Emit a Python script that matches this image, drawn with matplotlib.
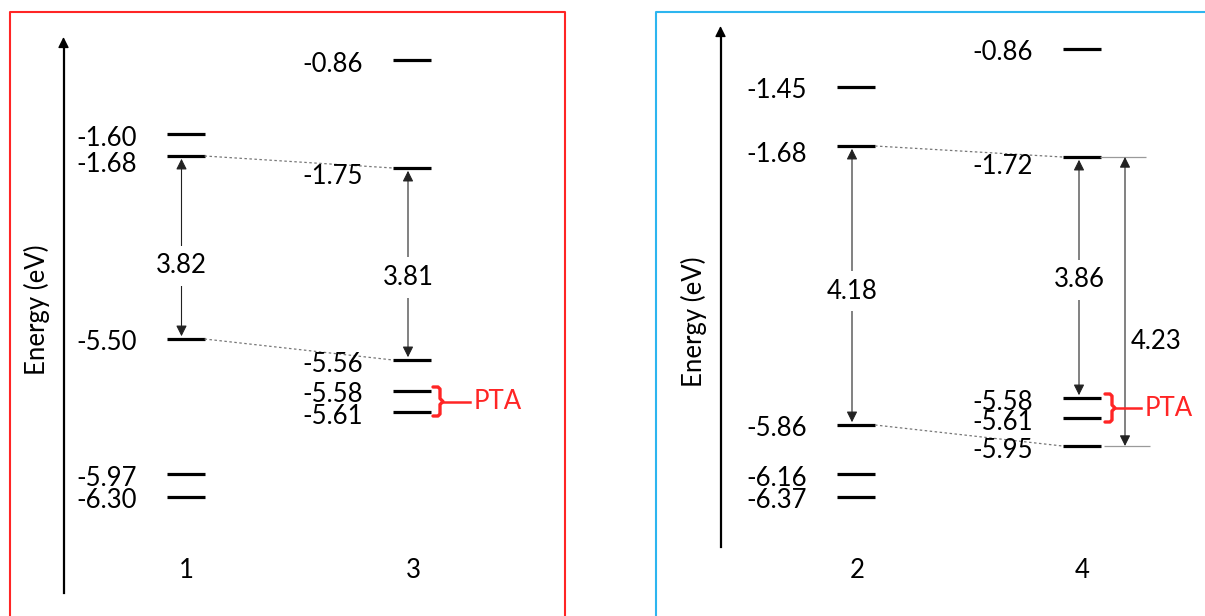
import numpy as np
import matplotlib.pyplot as plt
from matplotlib.lines import Line2D
from matplotlib.transforms import IdentityTransform

plt.rcParams['font.family'] = ['Lato', 'DejaVu Sans']

W, H = 1205, 616

# frontier orbital energies (eV) for each compound
e1 = [-1.60, -1.68, -5.50, -5.97, -6.30]
e3 = [-0.86, -1.75, -5.56, -5.58, -5.61]
e2 = [-1.45, -1.68, -5.86, -6.16, -6.37]
e4 = [-0.86, -1.72, -5.58, -5.61, -5.95]

# band gaps as (upper level, lower level)
gap1 = (-1.68, -5.50)
gap3 = (-1.75, -5.56)
gap2 = (-1.68, -5.86)
gap4 = (-1.72, -5.58)
gap4_wide = (-1.72, -5.95)
pta3 = (-5.58, -5.61)
pta4 = (-5.58, -5.61)

# schematic (non-linear) energy axis: energy -> pixels from the top
left_e = [-7.5, -6.30, -5.97, -5.61, -5.58, -5.56, -5.50, -1.75, -1.68, -1.60, -0.86, 0.0]
left_px = [616, 497, 474, 412, 391, 360, 339, 168, 156, 134, 60, 0]
right_e = [-7.5, -6.37, -6.16, -5.95, -5.86, -5.61, -5.58, -1.72, -1.68, -1.45, -0.86, 0.0]
right_px = [616, 497, 474, 446, 425, 418, 398, 157, 146, 87, 49, 0]

FS = 18.5
RED = '#ff2525'
BLUE = '#2db5ef'


def fig_xy(x, y):
    return x / W, 1 - y / H


def make_axes(fig, es, pxs):
    es = np.array(es)
    pxs = np.array(pxs, dtype=float)
    fwd = lambda e: -np.interp(e, es, pxs)
    inv = lambda p: np.interp(-np.asarray(p), pxs[::-1], es[::-1])
    ax = fig.add_axes([0, 0, 1, 1])
    ax.set_xlim(0, W)
    ax.set_yscale('function', functions=(fwd, inv))
    ax.set_ylim(es[0], es[-1])
    ax.axis('off')
    return ax


def ydisp(ax, e):
    return ax.transData.transform((0, e))[1]


def column(ax, xc, levels, name, lumo):
    ax.hlines(levels, xc - 19, xc + 19, color='black', lw=2.3)
    for v in levels:
        dy = 7 if v == lumo else 2
        ax.annotate(f"{v:.2f}", xy=(xc - 49, v), xytext=(0, -(9.5 + dy)),
                    textcoords='offset pixels', ha='right', va='baseline', fontsize=FS)
    fig.text(*fig_xy(xc + 1, 570), name, fontsize=FS, ha='center', va='center')


def gap_arrow(ax, xa, gap, frac):
    top, bot = gap
    ax.annotate('', xy=(xa, top), xytext=(xa, bot),
                arrowprops=dict(arrowstyle='<|-|>', lw=0.8, color='#222222',
                                mutation_scale=16, shrinkA=2, shrinkB=2))
    yt, yb = ydisp(ax, top), ydisp(ax, bot)
    ymid = yt - frac * (yt - yb)
    fig.text(xa / W, ymid / H, f"{abs(bot - top):.2f}", fontsize=FS, ha='center', va='center',
             bbox=dict(boxstyle='square,pad=0.3', fc='white', ec='none'))


def connector(ax, xa, ea, xb, eb):
    ax.plot([xa, xb], [ea, eb], color='#777777', lw=0.9, ls=(0, (2, 2)))


def brace(ax, x0, pair, stub):
    yt, yb = ydisp(ax, pair[0]) + 4, ydisp(ax, pair[1]) - 4
    ym = (yt + yb) / 2
    xs = [x0, x0 + 5, x0 + 7, x0 + 7, x0 + 10, x0 + 7, x0 + 7, x0 + 5, x0]
    ys = [yt, yt, yt - 2, ym + 3, ym, ym - 3, yb + 2, yb, yb]
    fig.add_artist(Line2D(xs, ys, color=RED, lw=2.4, transform=IdentityTransform(),
                          solid_joinstyle='round', solid_capstyle='round'))
    fig.add_artist(Line2D([x0 + 10, x0 + stub], [ym, ym], color=RED, lw=1.8,
                          transform=IdentityTransform()))
    fig.text((x0 + stub + 4) / W, ym / H, "PTA", color=RED, fontsize=FS, ha='left', va='center')


fig = plt.figure(figsize=(W / 100, H / 100), dpi=100)

# left panel: 1 and 3
axl = make_axes(fig, left_e, left_px)
column(axl, 185.5, e1, "1", gap1[0])
column(axl, 412, e3, "3", gap3[0])
connector(axl, 204.5, gap1[0], 393, gap3[0])
connector(axl, 204.5, gap1[1], 393, gap3[1])
gap_arrow(axl, 181.5, gap1, 0.60)
gap_arrow(axl, 408, gap3, 0.57)
brace(axl, 433, pta3, 37)

# right panel: 2 and 4
axr = make_axes(fig, right_e, right_px)
column(axr, 856, e2, "2", gap2[0])
column(axr, 1081.5, e4, "4", gap4[0])
connector(axr, 875, gap2[0], 1062.5, gap4[0])
connector(axr, 875, gap2[1], 1062.5, gap4_wide[1])
gap_arrow(axr, 852, gap2, 0.52)
gap_arrow(axr, 1079, gap4, 0.51)
axr.hlines(gap4_wide[0], 1100, 1146, color='#9a9a9a', lw=0.9)
axr.hlines(gap4_wide[1], 1104, 1150, color='#9a9a9a', lw=0.9)
axr.annotate('', xy=(1125, gap4_wide[0]), xytext=(1125, gap4_wide[1]),
             arrowprops=dict(arrowstyle='<|-|>', lw=0.8, color='#222222',
                             mutation_scale=16, shrinkA=0, shrinkB=0))
yt, yb = ydisp(axr, gap4_wide[0]), ydisp(axr, gap4_wide[1])
fig.text(1131 / W, (yt - 0.64 * (yt - yb)) / H, f"{abs(gap4_wide[1] - gap4_wide[0]):.2f}",
         fontsize=FS, ha='left', va='center')
brace(axr, 1105, pta4, 36)

# panel frames
fig.add_artist(Line2D(*zip(fig_xy(10, 630), fig_xy(10, 12), fig_xy(565, 12), fig_xy(565, 630)),
                      color=RED, lw=1.5, transform=fig.transFigure))
fig.add_artist(Line2D(*zip(fig_xy(656, 630), fig_xy(656, 12), fig_xy(1215, 12)),
                      color=BLUE, lw=1.5, transform=fig.transFigure))

# energy axes with arrow tips
for x, y0, y1, ly in [(63.5, 593, 37, 310), (720.5, 547, 26, 322)]:
    fig.add_artist(Line2D([x / W, x / W], [1 - y0 / H, 1 - (y1 + 8) / H], color='black', lw=1.6,
                          transform=fig.transFigure))
    axl.annotate('', xy=fig_xy(x, y1), xytext=fig_xy(x, y1 + 11), xycoords='figure fraction',
                 arrowprops=dict(arrowstyle='-|>', lw=1.0, color='black', mutation_scale=16,
                                 shrinkA=0, shrinkB=0))
    fig.text(*fig_xy(x - 27, ly), "Energy (eV)", rotation=90, fontsize=FS, ha='center', va='center')

fig.savefig("out.png", dpi=100)
